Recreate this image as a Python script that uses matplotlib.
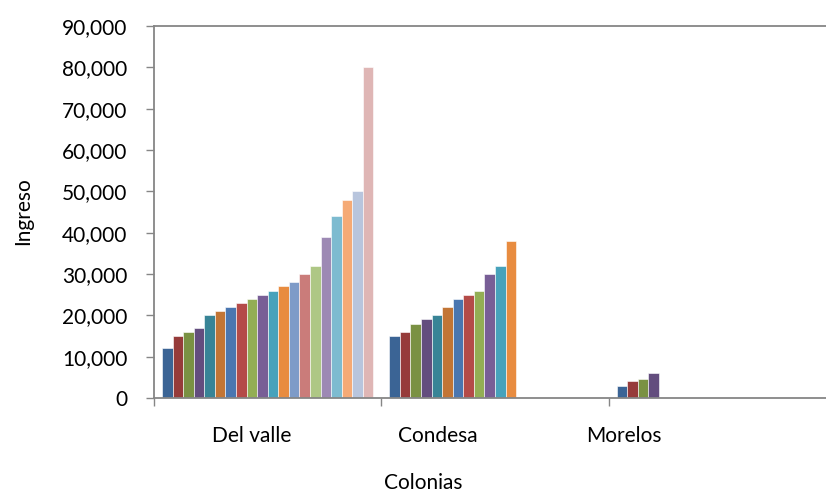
#!/usr/bin/env python3

import matplotlib
matplotlib.use("Agg")
import matplotlib.pyplot as plt
from matplotlib.ticker import FuncFormatter, FixedLocator

plt.rcParams["font.family"] = ["Lato", "DejaVu Sans"]

# Data (Ingreso per series, grouped by colonia)
COLONIAS = ["Del valle", "Condesa", "Morelos"]
DEL_VALLE = [12000, 15000, 16000, 17000, 20000, 21000, 22000, 23000, 24000, 25000,
             26000, 27000, 28000, 30000, 32000, 39000, 44000, 48000, 50000, 80000]
CONDESA = [15000, 16000, 18000, 19000, 20000, 22000, 24000, 25000, 26000, 30000,
           32000, 38000]
MORELOS = [3000, 4000, 4500, 6000]
Y_TICKS = [0, 10000, 20000, 30000, 40000, 50000, 60000, 70000, 80000, 90000]

SERIES_COLORS = [
	"#3B6495", "#963B3A", "#7A9143", "#634D7E", "#388496", "#C27535",
	"#4A76B0", "#B44B48", "#93AE54", "#785E96", "#47A2BB", "#E88C40",
	"#7E9BC8", "#CA7C7A", "#AEC785", "#9D89B4", "#7DBBD0", "#F5AA76",
	"#B8C5DD", "#DFB6B5",
]

# label centres in the reference sit left of the category centres
LABEL_POS = [0.431, 1.247, 2.068]

GREY = "#868686"
FS = 15


def main() -> None:
	fig = plt.figure(figsize=(8.26, 4.93), dpi=100)
	ax = fig.add_axes([154 / 826, 95 / 493, 682 / 826, 372 / 493])

	n_series = len(SERIES_COLORS)
	bar_w = 1.0 / (n_series + 1.5)
	groups = [DEL_VALLE, CONDESA, MORELOS]
	for ci, values in enumerate(groups):
		for si, val in enumerate(values):
			x = ci + 0.75 * bar_w + si * bar_w
			ax.bar(x, val, width=bar_w, align="edge", color=SERIES_COLORS[si],
				edgecolor="white", linewidth=0.4)

	ax.set_xlim(0, len(COLONIAS))
	ax.set_ylim(0, 90000)

	ax.set_yticks(Y_TICKS)
	ax.yaxis.set_major_formatter(FuncFormatter(lambda v, p: f"{int(v):,}"))
	ax.tick_params(axis="y", direction="out", length=6, width=1, color=GREY,
		labelsize=FS, pad=13)

	ax.xaxis.set_major_locator(FixedLocator([0, 1, 2, 3]))
	ax.xaxis.set_major_formatter(FuncFormatter(lambda v, p: ""))
	ax.xaxis.set_minor_locator(FixedLocator(LABEL_POS))
	ax.set_xticklabels(COLONIAS, minor=True)
	ax.tick_params(axis="x", which="major", direction="out", length=6, width=1, color=GREY)
	ax.tick_params(axis="x", which="minor", length=0, labelsize=FS, pad=20)

	for side in ["left", "bottom", "top"]:
		ax.spines[side].set_color(GREY)
		ax.spines[side].set_linewidth(1.3)
	ax.spines["right"].set_visible(False)

	fig.text(23 / 826, 1 - 211 / 493, "Ingreso", rotation=90, ha="center", va="center",
		fontsize=FS)
	fig.text(423 / 826, 1 - 483 / 493, "Colonias", ha="center", va="center", fontsize=FS)

	fig.savefig("out.png", dpi=100)
	plt.close("all")


if __name__ == "__main__":
	main()
